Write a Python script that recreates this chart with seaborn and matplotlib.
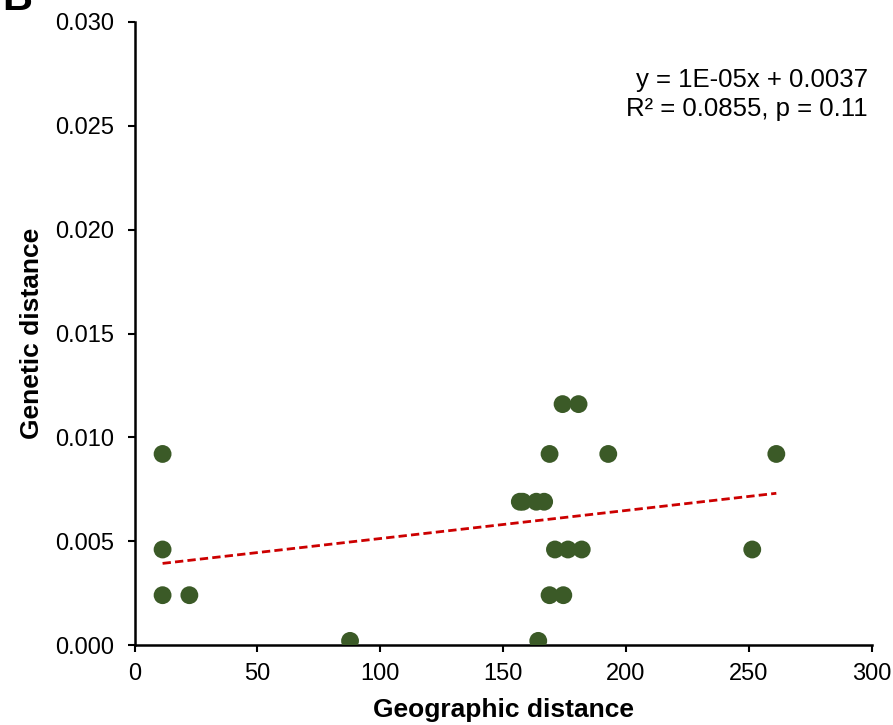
import numpy as np
import pandas as pd
import matplotlib
matplotlib.use("Agg")
import matplotlib.pyplot as plt
import seaborn as sns

# values
geo_dist = [11.4, 11.4, 11.4, 22.3, 87.7, 156.8, 158.0, 163.5, 166.7,
            164.3, 168.9, 168.9, 171.1, 174.2, 174.5, 176.4, 180.7, 182.0,
            192.8, 251.4, 261.2]
gen_dist = [0.0092, 0.0046, 0.0024, 0.0024, 0.0002, 0.0069, 0.0069, 0.0069, 0.0069,
            0.0002, 0.0092, 0.0024, 0.0046, 0.0116, 0.0024, 0.0046, 0.0116, 0.0046,
            0.0092, 0.0046, 0.0092]
eq_text = "y = 1E-05x + 0.0037\nR² = 0.0855, p = 0.11"
x_ticks = [0, 50, 100, 150, 200, 250, 300]
y_ticks = [0.000, 0.005, 0.010, 0.015, 0.020, 0.025, 0.030]

df = pd.DataFrame({"geo": geo_dist, "gen": gen_dist})

sns.set_style("ticks")
plt.rcParams['font.family'] = ['Liberation Sans', 'DejaVu Sans']
plt.rcParams['text.color'] = 'black'
plt.rcParams['axes.labelcolor'] = 'black'

fig = plt.figure(figsize=(8.93, 7.25), dpi=100)
ax = fig.add_axes([0.1507, 0.1103, 0.8254, 0.8594])

sns.scatterplot(data=df, x="geo", y="gen", ax=ax, s=165, color="#3B5A27",
                edgecolor="none", zorder=3)

# linear trend over the data range
slope, intercept = np.polyfit(df["geo"], df["gen"], 1)
xs = np.array([df["geo"].min(), df["geo"].max()])
ax.plot(xs, slope * xs + intercept, color="#CC0000", ls=(0, (3, 1.5)), lw=2, zorder=2)

ax.set_xlim(0, 300)
ax.set_ylim(0, 0.030)
ax.set_xticks(x_ticks)
ax.set_yticks(y_ticks)
ax.set_yticklabels([f"{v:.3f}" for v in y_ticks])
ax.tick_params(labelsize=17, width=1.5, length=5, colors="black")
ax.tick_params(axis="y", pad=10)
ax.tick_params(axis="x", pad=8)
for s in ["left", "bottom"]:
    ax.spines[s].set_linewidth(1.8)
    ax.spines[s].set_color("black")
sns.despine(ax=ax)

ax.set_xlabel("Geographic distance", fontsize=19, fontweight="bold")
ax.set_ylabel("Genetic distance", fontsize=19, fontweight="bold")
ax.xaxis.set_label_coords(0.5, -0.085)
ax.yaxis.set_label_coords(-0.123, 0.5)

ax.text(0.995, 0.926, eq_text, transform=ax.transAxes, ha="right", va="top",
        fontsize=18.5, linespacing=1.25)

fig.text(0.003, 1 - 10 / 725, "B", fontsize=30, fontweight="bold", va="baseline")

fig.savefig("out.png", dpi=100)
